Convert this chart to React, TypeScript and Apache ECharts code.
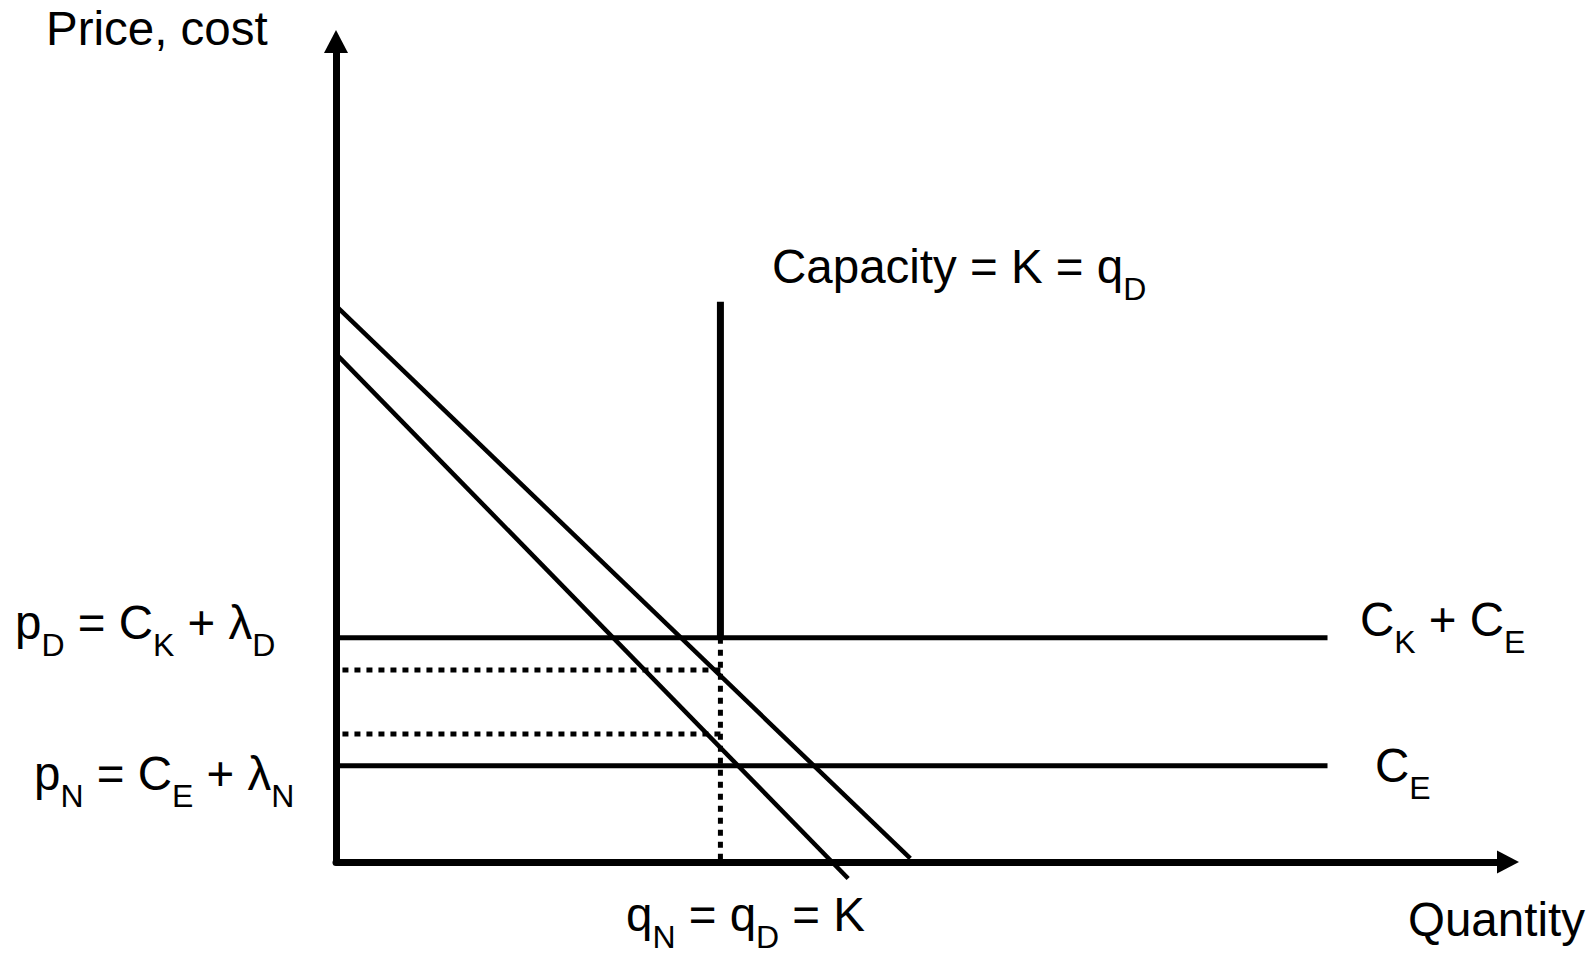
import React, { useEffect, useRef } from "react";
import * as echarts from "echarts";

const FONT = '"Liberation Sans", Arial, Helvetica, sans-serif';

// Axis ranges (chart units)
const quantityMax = 100;
const priceMax = 70;

// Demand curves [quantity, price]
const demandPeak = [[0, 47.45], [49.0, 0.3]];
const demandOffPeak = [[0, 43.35], [43.7, -1.41]];

// Capacity and cost levels
const capacityK = 32.8;
const capacityTop = 47.8;
const costPeak = 19.14; // C_K + C_E
const costOffPeak = 8.22; // C_E
const costLineEnd = 84.6;
const pricePeakDotted = 16.38;
const priceOffPeakDotted = 10.92;
const dottedStart = 0.55;

// Text labels (rich-text markup: m = main, s = subscript)
const labelPriceAxis = "{m|Price, cost}";
const labelCapacity = "{m|Capacity = K = q}{s|D}";
const labelPeakPrice = "{m|p}{s|D}{m| = C}{s|K}{m| + λ}{s|D}";
const labelOffPeakPrice = "{m|p}{s|N}{m| = C}{s|E}{m| + λ}{s|N}";
const labelPeakCost = "{m|C}{s|K}{m| + C}{s|E}";
const labelOffPeakCost = "{m|C}{s|E}";
const labelQuantityEq = "{m|q}{s|N}{m| = q}{s|D}{m| = K}";
const labelQuantityAxis = "{m|Quantity}";

const rich = {
  m: { fontSize: 47.5, fontFamily: FONT, lineHeight: 76, fill: "#000" },
  s: { fontSize: 32, fontFamily: FONT, verticalAlign: "bottom", fill: "#000" },
};

const seg = (data: number[][], width: number, dashed = false) => ({
  type: "line",
  data,
  symbol: "none",
  showSymbol: false,
  silent: true,
  clip: false,
  lineStyle: { color: "#000", width, type: dashed ? [6, 6] : "solid", cap: "butt" },
  emphasis: { disabled: true },
});

const txt = (text: string, x: number, y: number) => ({
  type: "text",
  x,
  y,
  silent: true,
  style: { text, rich, align: "left", verticalAlign: "middle", fill: "#000", fontFamily: FONT, fontSize: 47.5 },
});

export default function App() {
  const ref = useRef<HTMLDivElement>(null);
  useEffect(() => {
    if (!ref.current) return;
    const chart = echarts.init(ref.current, null, { renderer: "svg" });
    const axisCommon = {
      type: "value",
      axisTick: { show: false },
      axisLabel: { show: false },
      splitLine: { show: false },
    };
    chart.setOption({
      animation: false,
      backgroundColor: "#fff",
      grid: { left: 336, top: 41.5, width: 1172, height: 820.5, containLabel: false },
      xAxis: {
        ...axisCommon,
        min: 0,
        max: quantityMax,
        axisLine: {
          show: true,
          symbol: ["none", "triangle"],
          symbolSize: [23, 22],
          lineStyle: { color: "#000", width: 7 },
        },
      },
      yAxis: {
        ...axisCommon,
        min: 0,
        max: priceMax,
        axisLine: {
          show: true,
          symbol: ["none", "triangle"],
          symbolSize: [24, 23],
          lineStyle: { color: "#000", width: 7 },
        },
      },
      series: [
        seg(demandPeak, 4.5),
        seg(demandOffPeak, 4.5),
        seg([[0, costPeak], [costLineEnd, costPeak]], 5),
        seg([[0, costOffPeak], [costLineEnd, costOffPeak]], 5),
        seg([[capacityK, capacityTop], [capacityK, costPeak]], 7),
        seg([[capacityK, costPeak], [capacityK, 0]], 5, true),
        seg([[dottedStart, pricePeakDotted], [capacityK, pricePeakDotted]], 5, true),
        seg([[dottedStart, priceOffPeakDotted], [capacityK, priceOffPeakDotted]], 5, true),
      ],
      graphic: [
        txt(labelPriceAxis, 46, 28.5),
        txt(labelCapacity, 772, 266.5),
        txt(labelPeakPrice, 15, 622.5),
        txt(labelOffPeakPrice, 34, 773.5),
        txt(labelPeakCost, 1360, 619.5),
        txt(labelOffPeakCost, 1375, 765.5),
        txt(labelQuantityEq, 626, 914.5),
        txt(labelQuantityAxis, 1408, 919),
      ],
    });
    return () => chart.dispose();
  }, []);
  return (
    <div
      ref={ref}
      style={{ position: "absolute", left: 0, top: 0, width: 1593, height: 953, background: "#fff" }}
    />
  );
}
